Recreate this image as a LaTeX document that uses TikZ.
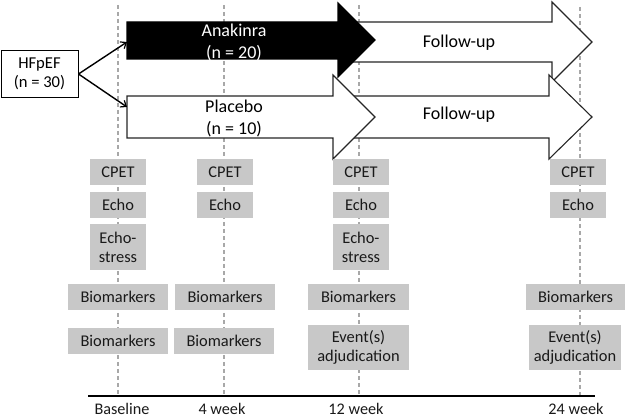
\documentclass[tikz,border=0pt]{standalone}
\usepackage{fontspec}
\setmainfont{Carlito}
\usetikzlibrary{arrows.meta}
\definecolor{boxgray}{HTML}{C8C8C8}
\definecolor{dashgray}{HTML}{A8A8A8}
\definecolor{edge}{HTML}{262626}
\tikzset{
  gbox/.style={fill=boxgray, inner sep=0pt, align=center, text=black!90,
    font=\fontsize{16.4}{19}\selectfont},
  armtext/.style={align=center, font=\fontsize{18}{22}\selectfont},
  tline/.style={dashgray, line width=1.1pt, dash pattern=on 4pt off 3pt},
  bigarrow/.style={draw=edge, line width=1.1pt, line join=miter, fill=white},
  conn/.style={line width=1.4pt, -{Straight Barb[length=5pt,width=8pt,line width=1.2pt]}},
  timelabel/.style={anchor=base, inner sep=0pt, font=\fontsize{16.2}{19}\selectfont, text=black!90}
}
\begin{document}
\begin{tikzpicture}[x=1pt,y=-1pt]
\useasboundingbox (0,0) rectangle (630,419);
% time lines
\coordinate (t0a) at (118,5);   \coordinate (t0b) at (118,396);
\coordinate (t1a) at (224,5);   \coordinate (t1b) at (224,396);
\coordinate (t2a) at (359,5);   \coordinate (t2b) at (359,396);
\coordinate (t3a) at (580,7);   \coordinate (t3b) at (580,396);
\draw[tline] (t0a) -- (t0b);
\draw[tline] (t1a) -- (t1b);
\draw[tline] (t2a) -- (t2b);
\draw[tline] (t3a) -- (t3b);
% axis
\coordinate (axl) at (88,396); \coordinate (axr) at (595,396);
\draw[line width=1.4pt, black] (axl) -- (axr);

% big arrows
\draw[bigarrow] (340,62) -- (340,22) -- (552,22) -- (552,2) -- (592,42) -- (552,82) -- (552,62) -- cycle;
\draw[bigarrow, fill=black, draw=black] (127,22) -- (338,22) -- (338,3) -- (375,40) -- (338,77) -- (338,59) -- (127,59) -- cycle;
\draw[bigarrow] (333,138) -- (333,96) -- (549,96) -- (549,75) -- (592,117) -- (549,159) -- (549,138) -- cycle;
\draw[bigarrow] (127,96) -- (333,96) -- (333,75) -- (375,117) -- (333,159) -- (333,138) -- (127,138) -- cycle;

\node[armtext, text=white] (ana) at (234,43) {Anakinra\\(n = 20)};
\node[armtext] (pla) at (234,119) {Placebo\\(n = 10)};
\node[armtext] (fu1) at (459,43) {Follow-up};
\node[armtext] (fu2) at (459,115) {Follow-up};

% HFpEF
\node[draw=black, line width=1pt, fill=white, align=center, inner sep=0pt,
  minimum width=77pt, minimum height=47pt, font=\fontsize{16.6}{19}\selectfont]
  (hf) at (39.5,74) {HFpEF\\(n = 30)};
\coordinate (anain) at (127,42);
\coordinate (plain) at (127,107);
\draw[conn] (hf.east) -- (anain);
\draw[conn] (hf.east) -- (plain);

% Baseline column
\node[gbox, minimum width=56pt, minimum height=26pt] (b1) at (118,172) {CPET};
\node[gbox, minimum width=56pt, minimum height=26pt] (b2) at (118,205) {Echo};
\node[gbox, minimum width=56pt, minimum height=46pt] (b3) at (118,247) {Echo-\\stress};
\node[gbox, minimum width=100pt, minimum height=26pt] (b4) at (118,297) {Biomarkers};
\node[gbox, minimum width=100pt, minimum height=26pt] (b5) at (118,341) {Biomarkers};
% 4 week
\node[gbox, minimum width=56pt, minimum height=26pt] (w1) at (225,172) {CPET};
\node[gbox, minimum width=56pt, minimum height=26pt] (w2) at (225,205) {Echo};
\node[gbox, minimum width=100pt, minimum height=26pt] (w4) at (225,297) {Biomarkers};
\node[gbox, minimum width=100pt, minimum height=26pt] (w5) at (224,341) {Biomarkers};
% 12 week
\node[gbox, minimum width=56pt, minimum height=26pt] (x1) at (361,172) {CPET};
\node[gbox, minimum width=56pt, minimum height=26pt] (x2) at (361,205) {Echo};
\node[gbox, minimum width=56pt, minimum height=46pt] (x3) at (361,247) {Echo-\\stress};
\node[gbox, minimum width=101pt, minimum height=26pt] (x4) at (358.5,297) {Biomarkers};
\node[gbox, minimum width=101pt, minimum height=45pt] (x5) at (358.5,347.5) {Event(s)\\adjudication};
% 24 week
\node[gbox, minimum width=56pt, minimum height=26pt] (y1) at (578,172) {CPET};
\node[gbox, minimum width=56pt, minimum height=26pt] (y2) at (578,205) {Echo};
\node[gbox, minimum width=99pt, minimum height=26pt] (y4) at (575.5,297) {Biomarkers};
\node[gbox, minimum width=92pt, minimum height=45pt] (y5) at (575,347.5) {Event(s)\\adjudication};

% time labels
\node[timelabel] (l0) at (122,415) {Baseline};
\node[timelabel] (l1) at (222,415) {4 week};
\node[timelabel] (l2) at (356,415) {12 week};
\node[timelabel] (l3) at (576,415) {24 week};
\end{tikzpicture}
\end{document}
